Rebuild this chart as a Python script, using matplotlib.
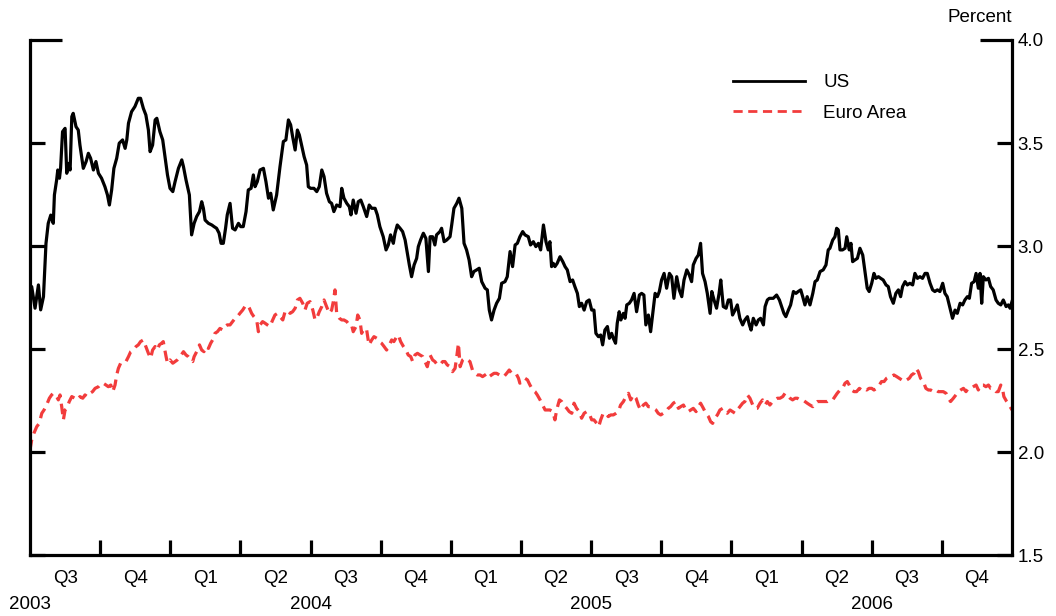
import matplotlib
matplotlib.use("Agg")
import matplotlib.pyplot as plt
import matplotlib.transforms as mtransforms
import numpy as np

plt.rcParams['font.family'] = ['Liberation Sans', 'DejaVu Sans']

# ---------------- data (decimal years, percent) ----------------
us_t = [2003.500, 2003.506, 2003.518, 2003.530, 2003.538, 2003.548, 2003.557, 2003.565, 2003.574, 2003.583,
        2003.587, 2003.595, 2003.599, 2003.605, 2003.609, 2003.616, 2003.625, 2003.631, 2003.637, 2003.643,
        2003.649, 2003.654, 2003.664, 2003.672, 2003.678, 2003.690, 2003.700, 2003.708, 2003.716, 2003.726,
        2003.735, 2003.744, 2003.755, 2003.767, 2003.776, 2003.783, 2003.791, 2003.799, 2003.809, 2003.818,
        2003.830, 2003.839, 2003.845, 2003.851, 2003.862, 2003.874, 2003.886, 2003.894, 2003.904, 2003.913,
        2003.922, 2003.928, 2003.937, 2003.946, 2003.952, 2003.963, 2003.973, 2003.981, 2003.990, 2003.999,
        2004.009, 2004.017, 2004.029, 2004.041, 2004.047, 2004.056, 2004.068, 2004.076, 2004.085, 2004.094,
        2004.104, 2004.112, 2004.118, 2004.124, 2004.136, 2004.148, 2004.156, 2004.165, 2004.174, 2004.181,
        2004.189, 2004.197, 2004.203, 2004.213, 2004.222, 2004.231, 2004.243, 2004.251, 2004.260, 2004.270,
        2004.278, 2004.288, 2004.296, 2004.302, 2004.310, 2004.320, 2004.332, 2004.341, 2004.350, 2004.358,
        2004.367, 2004.379, 2004.391, 2004.403, 2004.412, 2004.421, 2004.429, 2004.436, 2004.445, 2004.453,
        2004.460, 2004.468, 2004.477, 2004.486, 2004.492, 2004.500, 2004.512, 2004.522, 2004.531, 2004.540,
        2004.548, 2004.557, 2004.567, 2004.575, 2004.583, 2004.593, 2004.605, 2004.611, 2004.619, 2004.629,
        2004.638, 2004.644, 2004.652, 2004.662, 2004.670, 2004.679, 2004.688, 2004.700, 2004.709, 2004.718,
        2004.730, 2004.738, 2004.747, 2004.759, 2004.769, 2004.777, 2004.785, 2004.795, 2004.801, 2004.809,
        2004.819, 2004.828, 2004.837, 2004.843, 2004.852, 2004.860, 2004.869, 2004.878, 2004.884, 2004.892,
        2004.902, 2004.911, 2004.920, 2004.926, 2004.935, 2004.943, 2004.949, 2004.961, 2004.967, 2004.976,
        2004.985, 2004.997, 2005.003, 2005.011, 2005.021, 2005.029, 2005.039, 2005.047, 2005.056, 2005.065,
        2005.074, 2005.082, 2005.092, 2005.101, 2005.110, 2005.122, 2005.130, 2005.137, 2005.145, 2005.154,
        2005.163, 2005.173, 2005.181, 2005.193, 2005.201, 2005.211, 2005.220, 2005.229, 2005.237,
        2005.246, 2005.256, 2005.264, 2005.276, 2005.284, 2005.294, 2005.303, 2005.312, 2005.320, 2005.330,
        2005.339, 2005.347, 2005.353, 2005.359, 2005.365, 2005.371, 2005.379, 2005.389, 2005.399, 2005.407,
        2005.415, 2005.425, 2005.434, 2005.442, 2005.451, 2005.458, 2005.466, 2005.475, 2005.484, 2005.493,
        2005.502, 2005.510, 2005.517, 2005.526, 2005.534, 2005.541, 2005.549, 2005.558, 2005.565, 2005.573,
        2005.579, 2005.587, 2005.593, 2005.600, 2005.606, 2005.615, 2005.621, 2005.627, 2005.636, 2005.644,
        2005.653, 2005.662, 2005.672, 2005.680, 2005.688, 2005.695, 2005.704, 2005.712, 2005.719, 2005.728,
        2005.736, 2005.743, 2005.751, 2005.760, 2005.769, 2005.779, 2005.787, 2005.795, 2005.805, 2005.814,
        2005.823, 2005.831, 2005.841, 2005.850, 2005.858, 2005.864, 2005.874, 2005.882, 2005.890, 2005.897,
        2005.906, 2005.914, 2005.924, 2005.930, 2005.938, 2005.947, 2005.956, 2005.962, 2005.971, 2005.981,
        2005.989, 2005.997, 2006.004, 2006.013, 2006.021, 2006.030, 2006.040, 2006.048, 2006.057, 2006.064,
        2006.070, 2006.078, 2006.088, 2006.096, 2006.104, 2006.114, 2006.120, 2006.128, 2006.135,
        2006.149, 2006.161, 2006.171, 2006.179, 2006.187, 2006.194, 2006.203, 2006.211, 2006.221, 2006.230,
        2006.238, 2006.247, 2006.254, 2006.262, 2006.270, 2006.280, 2006.290, 2006.298, 2006.306, 2006.316,
        2006.327, 2006.337, 2006.345, 2006.351, 2006.361, 2006.369, 2006.375, 2006.381, 2006.387, 2006.396,
        2006.405, 2006.411, 2006.420, 2006.426, 2006.432, 2006.440, 2006.449, 2006.458, 2006.468, 2006.476,
        2006.484, 2006.491, 2006.500, 2006.508, 2006.515, 2006.524, 2006.532, 2006.541, 2006.551, 2006.559,
        2006.567, 2006.577, 2006.586, 2006.595, 2006.603, 2006.610, 2006.619, 2006.627, 2006.636, 2006.646,
        2006.654, 2006.663, 2006.672, 2006.681, 2006.690, 2006.698, 2006.708, 2006.717, 2006.725, 2006.734,
        2006.743, 2006.753, 2006.761, 2006.769, 2006.779, 2006.788, 2006.797, 2006.805, 2006.815, 2006.824,
        2006.832, 2006.841, 2006.848, 2006.856, 2006.865, 2006.872, 2006.880, 2006.886, 2006.892, 2006.898,
        2006.907, 2006.916, 2006.924, 2006.933, 2006.943, 2006.951, 2006.960, 2006.969, 2006.979, 2006.987,
        2006.993, 2007.000]

us_v = [2.754, 2.803, 2.698, 2.811, 2.690, 2.754, 3.013, 3.110, 3.150, 3.110,
        3.248, 3.321, 3.369, 3.329, 3.377, 3.555, 3.571, 3.353, 3.401, 3.369,
        3.628, 3.644, 3.579, 3.563, 3.490, 3.377, 3.410, 3.450, 3.426, 3.369,
        3.410, 3.353, 3.329, 3.288, 3.248, 3.199, 3.272, 3.377, 3.426, 3.499,
        3.515, 3.474, 3.515, 3.596, 3.652, 3.677, 3.717, 3.717, 3.668, 3.636,
        3.563, 3.458, 3.490, 3.612, 3.620, 3.555, 3.515, 3.434, 3.345, 3.280,
        3.264, 3.312, 3.377, 3.418, 3.385, 3.321, 3.248, 3.054, 3.110, 3.143,
        3.167, 3.215, 3.183, 3.126, 3.110, 3.102, 3.094, 3.086, 3.062, 3.013,
        3.013, 3.086, 3.151, 3.207, 3.086, 3.078, 3.110, 3.094, 3.094, 3.167,
        3.272, 3.280, 3.345, 3.288, 3.312, 3.369, 3.377, 3.312, 3.232, 3.256,
        3.175, 3.248, 3.385, 3.507, 3.515, 3.612, 3.588, 3.531, 3.466, 3.563,
        3.539, 3.490, 3.434, 3.393, 3.288, 3.280, 3.280, 3.264, 3.288, 3.369,
        3.337, 3.256, 3.215, 3.207, 3.167, 3.199, 3.191, 3.280, 3.232, 3.207,
        3.191, 3.151, 3.223, 3.159, 3.215, 3.223, 3.191, 3.143, 3.199, 3.183,
        3.183, 3.151, 3.094, 3.045, 2.981, 3.005, 3.054, 3.013, 3.062, 3.102,
        3.086, 3.070, 3.029, 2.981, 2.908, 2.851, 2.908, 2.940, 2.997, 3.029,
        3.062, 3.037, 2.876, 3.045, 3.045, 3.005, 3.054, 3.070, 3.086, 3.021,
        3.029, 3.045, 3.102, 3.183, 3.207, 3.232, 3.183, 3.013, 2.981, 2.932,
        2.851, 2.876, 2.884, 2.892, 2.827, 2.795, 2.787, 2.689, 2.641, 2.689,
        2.722, 2.746, 2.819, 2.827, 2.851, 2.973, 2.900, 3.005, 3.013,
        3.045, 3.070, 3.054, 3.045, 3.005, 3.021, 2.997, 3.013, 2.981, 3.102,
        3.021, 2.981, 3.021, 2.900, 2.916, 2.900, 2.916, 2.948, 2.924, 2.900,
        2.884, 2.827, 2.835, 2.803, 2.770, 2.706, 2.722, 2.689, 2.730, 2.738,
        2.689, 2.689, 2.576, 2.560, 2.568, 2.520, 2.592, 2.609, 2.552, 2.576,
        2.552, 2.528, 2.625, 2.681, 2.641, 2.673, 2.649, 2.714, 2.722, 2.738,
        2.770, 2.681, 2.762, 2.770, 2.762, 2.617, 2.665, 2.584, 2.665, 2.770,
        2.754, 2.779, 2.835, 2.867, 2.795, 2.867, 2.851, 2.746, 2.851, 2.787,
        2.754, 2.835, 2.884, 2.859, 2.827, 2.908, 2.940, 2.956, 3.013, 2.867,
        2.827, 2.770, 2.673, 2.779, 2.738, 2.698, 2.770, 2.835, 2.706, 2.698,
        2.738, 2.738, 2.665, 2.689, 2.714, 2.649, 2.617, 2.641, 2.657, 2.617,
        2.592, 2.649, 2.617, 2.641, 2.649, 2.617, 2.706, 2.738, 2.746,
        2.746, 2.762, 2.738, 2.706, 2.673, 2.657, 2.689, 2.714, 2.779, 2.770,
        2.779, 2.787, 2.754, 2.714, 2.754, 2.714, 2.770, 2.827, 2.835, 2.876,
        2.884, 2.908, 2.981, 2.989, 3.029, 3.045, 3.086, 3.078, 2.981, 2.981,
        2.989, 3.045, 2.981, 3.013, 2.924, 2.932, 2.940, 2.989, 2.956, 2.876,
        2.795, 2.779, 2.819, 2.867, 2.843, 2.851, 2.843, 2.835, 2.811, 2.803,
        2.754, 2.722, 2.770, 2.787, 2.754, 2.803, 2.827, 2.811, 2.819, 2.811,
        2.867, 2.843, 2.851, 2.843, 2.867, 2.867, 2.819, 2.787, 2.779, 2.787,
        2.779, 2.819, 2.770, 2.754, 2.698, 2.649, 2.689, 2.673, 2.722, 2.714,
        2.738, 2.754, 2.746, 2.819, 2.827, 2.867, 2.795, 2.867, 2.722, 2.851,
        2.835, 2.843, 2.803, 2.787, 2.738, 2.722, 2.714, 2.738, 2.706, 2.714,
        2.698, 2.730]

eu_t = [2003.500, 2003.506, 2003.514, 2003.524, 2003.533, 2003.542, 2003.550, 2003.559, 2003.569, 2003.577,
        2003.583, 2003.595, 2003.601, 2003.607, 2003.613, 2003.619, 2003.625, 2003.631, 2003.640, 2003.649,
        2003.660, 2003.669, 2003.678, 2003.688, 2003.696, 2003.704, 2003.714, 2003.723, 2003.732, 2003.744,
        2003.752, 2003.761, 2003.771, 2003.779, 2003.788, 2003.795, 2003.803, 2003.809, 2003.815, 2003.823,
        2003.833, 2003.842, 2003.851, 2003.859, 2003.868, 2003.878, 2003.886, 2003.894, 2003.904, 2003.913,
        2003.922, 2003.930, 2003.937, 2003.946, 2003.954, 2003.961, 2003.969, 2003.975, 2003.985, 2003.990,
        2003.999, 2004.009, 2004.017, 2004.025, 2004.035, 2004.047, 2004.056, 2004.064, 2004.073, 2004.080,
        2004.085, 2004.094, 2004.104, 2004.112, 2004.120, 2004.127, 2004.136, 2004.144, 2004.151, 2004.159,
        2004.168, 2004.177, 2004.187, 2004.195, 2004.203, 2004.213, 2004.222, 2004.231, 2004.239, 2004.248,
        2004.258, 2004.266, 2004.275, 2004.282, 2004.290, 2004.298, 2004.308, 2004.314, 2004.320, 2004.329,
        2004.338, 2004.346,
        2004.355, 2004.365, 2004.373, 2004.382, 2004.391, 2004.401, 2004.409, 2004.417, 2004.427, 2004.436,
        2004.445, 2004.453, 2004.462, 2004.472, 2004.480, 2004.488, 2004.498, 2004.508, 2004.516, 2004.522,
        2004.531, 2004.540, 2004.548, 2004.557, 2004.567, 2004.575, 2004.581, 2004.587, 2004.593, 2004.603,
        2004.611, 2004.619, 2004.629, 2004.638, 2004.646, 2004.652, 2004.662, 2004.668, 2004.676, 2004.682,
        2004.690, 2004.700, 2004.708, 2004.718, 2004.726, 2004.736, 2004.745, 2004.753, 2004.762, 2004.771,
        2004.781, 2004.789, 2004.797, 2004.807, 2004.813, 2004.821, 2004.831, 2004.840, 2004.848, 2004.857,
        2004.864, 2004.872, 2004.881, 2004.890, 2004.900, 2004.908, 2004.916, 2004.926, 2004.935, 2004.943,
        2004.952, 2004.961, 2004.971, 2004.979, 2004.987, 2004.997, 2005.006, 2005.015, 2005.021, 2005.027,
        2005.033, 2005.042, 2005.050, 2005.059, 2005.068, 2005.077, 2005.086, 2005.094, 2005.104, 2005.113,
        2005.122, 2005.130, 2005.137, 2005.145, 2005.154, 2005.163, 2005.173, 2005.181, 2005.189, 2005.199,
        2005.208, 2005.217, 2005.225, 2005.232, 2005.241,
        2005.246, 2005.256, 2005.264, 2005.273, 2005.282, 2005.292, 2005.300, 2005.308, 2005.318, 2005.327,
        2005.336, 2005.344, 2005.353, 2005.363, 2005.371, 2005.377, 2005.387, 2005.395, 2005.403, 2005.413,
        2005.422, 2005.431, 2005.439, 2005.448, 2005.458, 2005.466, 2005.475, 2005.484, 2005.493, 2005.502,
        2005.510, 2005.520, 2005.527, 2005.534, 2005.543, 2005.553, 2005.561, 2005.570, 2005.579, 2005.589,
        2005.597, 2005.605, 2005.615, 2005.624, 2005.633, 2005.641, 2005.650, 2005.660, 2005.668, 2005.676,
        2005.686, 2005.695, 2005.704, 2005.712, 2005.722, 2005.731, 2005.739, 2005.748, 2005.757, 2005.767,
        2005.775, 2005.783, 2005.793, 2005.802, 2005.811, 2005.819, 2005.829, 2005.838, 2005.846, 2005.855,
        2005.864, 2005.874, 2005.882, 2005.890, 2005.900, 2005.909, 2005.918, 2005.926, 2005.933, 2005.941,
        2005.950, 2005.959, 2005.969, 2005.977, 2005.985, 2005.995, 2006.004, 2006.013, 2006.021, 2006.030,
        2006.040, 2006.048, 2006.057, 2006.066, 2006.076, 2006.084, 2006.092, 2006.102, 2006.111, 2006.120,
        2006.128,
        2006.137, 2006.147, 2006.155, 2006.164, 2006.173, 2006.183, 2006.191, 2006.199, 2006.209, 2006.218,
        2006.227, 2006.235, 2006.244, 2006.254, 2006.262, 2006.270, 2006.280, 2006.290, 2006.298, 2006.306,
        2006.316, 2006.325, 2006.333, 2006.342, 2006.351, 2006.361, 2006.369, 2006.377, 2006.387, 2006.396,
        2006.405, 2006.413, 2006.420, 2006.428, 2006.437, 2006.446, 2006.456, 2006.464, 2006.472, 2006.482,
        2006.491, 2006.500, 2006.508, 2006.518, 2006.527, 2006.535, 2006.544, 2006.553, 2006.563, 2006.571,
        2006.579, 2006.589, 2006.598, 2006.607, 2006.615, 2006.625, 2006.634, 2006.642, 2006.651, 2006.658,
        2006.666, 2006.674, 2006.684, 2006.693, 2006.702, 2006.710, 2006.720, 2006.729, 2006.737, 2006.746,
        2006.755, 2006.765, 2006.773, 2006.781, 2006.791, 2006.800, 2006.809, 2006.817, 2006.827, 2006.836,
        2006.844, 2006.853, 2006.862, 2006.872, 2006.880, 2006.888, 2006.898, 2006.907, 2006.916, 2006.924,
        2006.933, 2006.943, 2006.951, 2006.960, 2006.967, 2006.971, 2006.981, 2006.990, 2007.000]

eu_v = [2.010, 2.058, 2.091, 2.123, 2.139, 2.188, 2.204, 2.228, 2.261, 2.277,
        2.285, 2.269, 2.253, 2.277, 2.220, 2.156, 2.204, 2.212, 2.245, 2.269,
        2.261, 2.253, 2.269, 2.261, 2.277, 2.269, 2.285, 2.293, 2.309, 2.317,
        2.330, 2.334, 2.325, 2.317, 2.325, 2.293, 2.325, 2.374, 2.406, 2.431,
        2.439, 2.439, 2.463, 2.487, 2.495, 2.512, 2.520, 2.536, 2.544, 2.512,
        2.479, 2.455, 2.495, 2.512, 2.495, 2.520, 2.528, 2.536, 2.463, 2.431,
        2.447, 2.431, 2.439, 2.447, 2.463, 2.487, 2.471, 2.463, 2.447, 2.439,
        2.463, 2.487, 2.520, 2.495, 2.487, 2.512, 2.503, 2.528, 2.544, 2.576,
        2.584, 2.600, 2.592, 2.609, 2.617, 2.617, 2.633, 2.649, 2.657, 2.673,
        2.689, 2.706, 2.714, 2.698, 2.673, 2.657, 2.641, 2.584, 2.617, 2.633,
        2.625, 2.617,
        2.609, 2.641, 2.665, 2.673, 2.657, 2.641, 2.681, 2.689, 2.673, 2.681,
        2.698, 2.738, 2.746, 2.722, 2.689, 2.722, 2.730, 2.689, 2.641, 2.649,
        2.681, 2.706, 2.738, 2.706, 2.673, 2.689, 2.730, 2.787, 2.673, 2.649,
        2.641, 2.641, 2.633, 2.617, 2.617, 2.584, 2.609, 2.665, 2.641, 2.576,
        2.600, 2.592, 2.520, 2.544, 2.560, 2.552, 2.536, 2.528, 2.512, 2.495,
        2.520, 2.544, 2.536, 2.560, 2.568, 2.536, 2.512, 2.495, 2.471, 2.463,
        2.439, 2.471, 2.479, 2.471, 2.463, 2.439, 2.414, 2.471, 2.447, 2.439,
        2.423, 2.423, 2.439, 2.439, 2.423, 2.414, 2.390, 2.406, 2.463, 2.528,
        2.414, 2.447, 2.455, 2.447, 2.439, 2.398, 2.382, 2.374, 2.374, 2.366,
        2.374, 2.382, 2.366, 2.374, 2.382, 2.382, 2.374, 2.374, 2.366, 2.382,
        2.398, 2.382, 2.382, 2.382, 2.358,
        2.334, 2.342, 2.358, 2.350, 2.325, 2.301, 2.293, 2.277, 2.253, 2.228,
        2.204, 2.204, 2.204, 2.196, 2.156, 2.204, 2.253, 2.245, 2.228, 2.212,
        2.196, 2.188, 2.237, 2.212, 2.196, 2.164, 2.188, 2.196, 2.188, 2.156,
        2.156, 2.139, 2.123, 2.156, 2.188, 2.188, 2.172, 2.180, 2.180, 2.188,
        2.196, 2.228, 2.245, 2.269, 2.285, 2.253, 2.277, 2.261, 2.228, 2.204,
        2.228, 2.237, 2.220, 2.220, 2.212, 2.204, 2.188, 2.180, 2.188, 2.196,
        2.212, 2.220, 2.237, 2.245, 2.212, 2.220, 2.228, 2.204, 2.196, 2.204,
        2.212, 2.196, 2.220, 2.237, 2.212, 2.188, 2.172, 2.147, 2.139, 2.164,
        2.180, 2.204, 2.212, 2.196, 2.188, 2.204, 2.196, 2.188, 2.204, 2.220,
        2.237, 2.245, 2.277, 2.261, 2.228, 2.212, 2.212, 2.237, 2.253, 2.228,
        2.245,
        2.228, 2.245, 2.253, 2.261, 2.261, 2.269, 2.285, 2.277, 2.261, 2.253,
        2.261, 2.261, 2.253, 2.253, 2.245, 2.237, 2.228, 2.220, 2.237, 2.245,
        2.245, 2.245, 2.245, 2.245, 2.253, 2.253, 2.269, 2.285, 2.301, 2.309,
        2.334, 2.342, 2.325, 2.301, 2.293, 2.293, 2.309, 2.301, 2.309, 2.301,
        2.309, 2.309, 2.301, 2.309, 2.325, 2.342, 2.342, 2.358, 2.366, 2.366,
        2.374, 2.366, 2.358, 2.350, 2.342, 2.350, 2.358, 2.374, 2.382, 2.406,
        2.390, 2.358, 2.342, 2.309, 2.301, 2.301, 2.293, 2.301, 2.293, 2.293,
        2.293, 2.285, 2.261, 2.245, 2.261, 2.277, 2.293, 2.301, 2.309, 2.293,
        2.309, 2.309, 2.317, 2.325, 2.301, 2.325, 2.325, 2.317, 2.325, 2.309,
        2.309, 2.293, 2.293, 2.325, 2.301, 2.269, 2.245, 2.228, 2.204]

years = [2003, 2004, 2005, 2006]
quarter_labels = ['Q3', 'Q4'] + ['Q1', 'Q2', 'Q3', 'Q4'] * 3
y_ticks = [1.5, 2.0, 2.5, 3.0, 3.5, 4.0]

# ---------------- figure ----------------
W, H = 1056, 616
fig = plt.figure(figsize=(W / 100, H / 100), dpi=100)
ax = fig.add_axes([30 / W, 61 / H, 982 / W, 515 / H])

x0, x1 = 2003.5, 2007.0
ax.set_xlim(x0, x1)
ax.set_ylim(1.5, 4.0)

lw = 2.3
us_line, = ax.plot(us_t, us_v, color='black', lw=lw, label='US', solid_joinstyle='round')
eu_line, = ax.plot(eu_t, eu_v, color='#f23c3c', lw=lw, ls=(0, (3.3, 2.0)), label='Euro Area')

for s in ['left', 'right', 'bottom']:
    ax.spines[s].set_linewidth(2.3)
ax.spines['top'].set_visible(False)

fs = 13.5
# y axis: ticks on both sides, labels right
ax.set_yticks(y_ticks)
ax.set_yticklabels([f'{v:.1f}' for v in y_ticks])
ax.tick_params(axis='y', which='major', left=True, right=True, labelleft=False,
               labelright=True, direction='in', length=11, width=2.3, pad=4,
               labelsize=fs)
top_tick = ax.yaxis.get_major_ticks()[-1]
top_tick.tick1line.set_markersize(23)
top_tick.tick2line.set_markersize(23)

# x axis: quarter boundaries as ticks, quarter names between
q_bounds = np.arange(x0 + 0.25, x1 - 0.01, 0.25)
q_mids = np.arange(x0 + 0.125, x1, 0.25)
ax.set_xticks(q_bounds)
ax.set_xticklabels([''] * len(q_bounds))
ax.set_xticks(q_mids, minor=True)
ax.set_xticklabels(quarter_labels, minor=True)
ax.tick_params(axis='x', which='major', direction='in', length=11, width=2.3)
ax.tick_params(axis='x', which='minor', length=0, pad=11, labelsize=fs)

trans = mtransforms.blended_transform_factory(ax.transData, ax.transAxes)
for yr in years:
    ax.text(yr + 0.5, -0.097, str(yr), transform=trans, ha='center', va='center',
            fontsize=fs, clip_on=False)

fig.text(1012 / W, 1 - 17 / H, 'Percent', ha='right', va='center', fontsize=fs)

leg = ax.legend(loc='upper left', bbox_to_anchor=(0.716, 0.934), frameon=False,
                fontsize=fs, handlelength=3.85, handletextpad=0.95, labelspacing=0.72,
                borderaxespad=0, borderpad=0)
for h in leg.get_lines():
    h.set_linewidth(2.0)

fig.savefig('out.png', dpi=100)
